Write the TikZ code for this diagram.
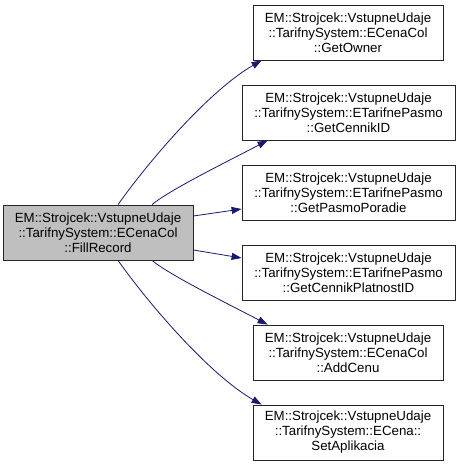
\documentclass[tikz,border=0pt]{standalone}
\usepackage{fontspec}
\setmainfont{Liberation Sans}
\usetikzlibrary{arrows.meta}
\definecolor{edgeblue}{HTML}{191970}
\definecolor{rootfill}{HTML}{BFBFBF}
\begin{document}
\begin{tikzpicture}[x=1pt,y=-1pt,
  fn/.style={draw=black!85, line width=0.8pt, fill=white, align=center, inner sep=0pt,
    minimum height=55pt, font=\fontsize{13.3}{15}\selectfont},
  narrow/.style={fn, minimum width=190pt},
  wide/.style={fn, minimum width=213pt},
  root/.style={fn, minimum width=190pt, fill=rootfill},
  call/.style={draw=edgeblue, line width=0.8pt, -{Triangle[length=10pt,width=7pt]}, color=edgeblue}
]
\useasboundingbox (0,0) rectangle (460,467);
\node[root] (L) at (98,232.5) {EM::Strojcek::VstupneUdaje\\::TarifnySystem::ECenaCol\\::FillRecord};
\node[narrow] (G1) at (348,32.5) {EM::Strojcek::VstupneUdaje\\::TarifnySystem::ECenaCol\\::GetOwner};
\node[wide] (G2) at (348.5,112.5) {EM::Strojcek::VstupneUdaje\\::TarifnySystem::ETarifnePasmo\\::GetCennikID};
\node[wide] (G3) at (348.5,192.5) {EM::Strojcek::VstupneUdaje\\::TarifnySystem::ETarifnePasmo\\::GetPasmoPoradie};
\node[wide] (G4) at (348.5,272.5) {EM::Strojcek::VstupneUdaje\\::TarifnySystem::ETarifnePasmo\\::GetCennikPlatnostID};
\node[narrow] (G5) at (348,352.5) {EM::Strojcek::VstupneUdaje\\::TarifnySystem::ECenaCol\\::AddCenu};
\node[narrow] (G6) at (348,432.5) {EM::Strojcek::VstupneUdaje\\::TarifnySystem::ECena::\\SetAplikacia};

\draw[call] ([xshift=20pt]L.north) .. controls +(32,-45) and +(-52,30) .. ([xshift=9pt]G1.south west);
\draw[call] ([xshift=54pt]L.north) .. controls +(18,-15) and +(-38,20) .. ([xshift=26pt]G2.south west);
\draw[call] ([yshift=16.5pt]L.east) -- ([yshift=-16.5pt]G3.west);
\draw[call] ([yshift=-17.5pt]L.east) -- ([yshift=14.5pt]G4.west);
\draw[call] ([xshift=54pt]L.south) .. controls +(18,15) and +(-38,-20) .. ([xshift=15pt]G5.north west);
\draw[call] ([xshift=20pt]L.south) .. controls +(32,45) and +(-52,-30) .. ([xshift=9pt]G6.north west);
\end{tikzpicture}
\end{document}
